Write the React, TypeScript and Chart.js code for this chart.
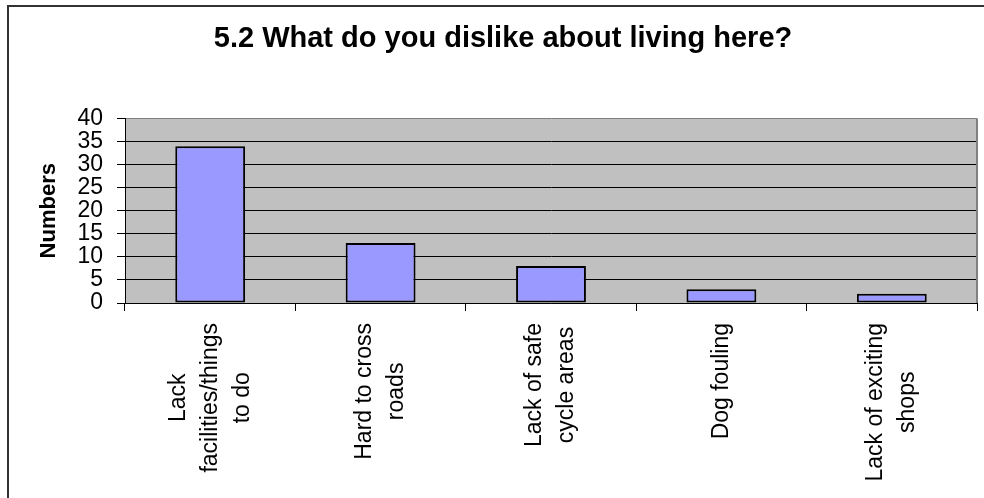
import React, { useEffect, useRef } from "react";
import { Chart, registerables } from "chart.js";

Chart.register(...registerables);

const titleText = "5.2 What do you dislike about living here?";
const yAxisTitle = "Numbers";
const categories: string[][] = [
  ["Lack", "facilities/things", "to do"],
  ["Hard to cross", "roads"],
  ["Lack of safe", "cycle areas"],
  ["Dog fouling"],
  ["Lack of exciting", "shops"],
];
const values: number[] = [34, 13, 8, 3, 2];
const yMin = 0;
const yMax = 40;
const yStep = 5;

const FONT = "'Liberation Sans', Arial, Helvetica, sans-serif";
const LABEL_GAP = 32;

const plotBgPlugin = {
  id: "plotBg",
  beforeDraw(chart: any) {
    const { ctx, chartArea } = chart;
    ctx.save();
    ctx.fillStyle = "#C0C0C0";
    ctx.fillRect(chartArea.left, chartArea.top, chartArea.right - chartArea.left, chartArea.bottom - chartArea.top);
    ctx.restore();
  },
  beforeDatasetsDraw(chart: any) {
    const { ctx, chartArea } = chart;
    ctx.save();
    ctx.strokeStyle = "#808080";
    ctx.lineWidth = 2;
    ctx.beginPath();
    ctx.moveTo(chartArea.right, chartArea.top);
    ctx.lineTo(chartArea.right, chartArea.bottom);
    ctx.stroke();
    ctx.restore();
  },
};

const xLabelsPlugin = {
  id: "xLabels",
  afterDraw(chart: any) {
    const { ctx } = chart;
    const x = chart.scales.x;
    ctx.save();
    ctx.font = `23px ${FONT}`;
    ctx.fillStyle = "#000";
    ctx.textAlign = "center";
    ctx.textBaseline = "middle";
    categories.forEach((lines, i) => {
      const cx = x.getPixelForValue(i);
      const top = x.top + 20;
      const maxW = Math.max(...lines.map((l) => ctx.measureText(l).width));
      ctx.save();
      ctx.translate(cx, top + maxW / 2);
      ctx.rotate(-Math.PI / 2);
      lines.forEach((line, j) => {
        const off = (j - (lines.length - 1) / 2) * LABEL_GAP;
        ctx.fillText(line, 0, off);
      });
      ctx.restore();
    });
    ctx.restore();
  },
};

export default function App() {
  const canvasRef = useRef<HTMLCanvasElement | null>(null);

  useEffect(() => {
    if (!canvasRef.current) return;
    const chart = new Chart(canvasRef.current, {
      type: "bar",
      data: {
        labels: categories,
        datasets: [
          {
            data: values,
            backgroundColor: "#9999FF",
            borderColor: "#000000",
            borderWidth: 2,
            borderSkipped: false,
            barPercentage: 0.41,
            categoryPercentage: 1,
          },
        ],
      },
      options: {
        responsive: false,
        animation: false,
        devicePixelRatio: 1,
        layout: { padding: { left: 29, right: 7, top: 0, bottom: 0 } },
        plugins: {
          legend: { display: false },
          tooltip: { enabled: false },
          title: {
            display: true,
            text: titleText,
            color: "#000",
            font: { family: FONT, size: 29, weight: "bold", lineHeight: 1.2 },
            padding: { top: 22, bottom: 61.7 },
          },
        },
        scales: {
          x: {
            grid: {
              offset: true,
              drawOnChartArea: false,
              drawTicks: true,
              tickLength: 8,
              color: "#000",
              tickColor: "#000",
            },
            border: { display: true, color: "#000", width: 1 },
            ticks: { display: false },
            afterFit(scale: any) {
              scale.height = 195;
            },
          },
          y: {
            min: yMin,
            max: yMax,
            ticks: {
              stepSize: yStep,
              autoSkip: false,
              color: "#000",
              padding: 14,
              font: { family: FONT, size: 23 },
            },
            grid: {
              color: (c: any) => (c.tick && c.tick.value === yMax ? "#808080" : "#000"),
              tickColor: "#000",
              tickLength: 8,
              lineWidth: 1,
            },
            border: { display: true, color: "#000", width: 1 },
            title: {
              display: true,
              text: yAxisTitle,
              color: "#000",
              font: { family: FONT, size: 22, weight: "bold", lineHeight: 1.2 },
              padding: { top: 7, bottom: 0 },
            },
            afterFit(scale: any) {
              scale.width = 96;
            },
          },
        },
      },
      plugins: [plotBgPlugin, xLabelsPlugin],
    });
    return () => chart.destroy();
  }, []);

  return (
    <div style={{ position: "absolute", left: 0, top: 0, width: 984, height: 498, overflow: "hidden", background: "#fff" }}>
      <div
        style={{
          position: "absolute",
          left: 7,
          top: 5,
          width: 1050,
          height: 560,
          border: "2px solid #333",
          boxSizing: "border-box",
        }}
      />
      <canvas
        ref={canvasRef}
        width={984}
        height={498}
        style={{ position: "absolute", left: 0, top: 0, width: 984, height: 498, display: "block" }}
      />
    </div>
  );
}
